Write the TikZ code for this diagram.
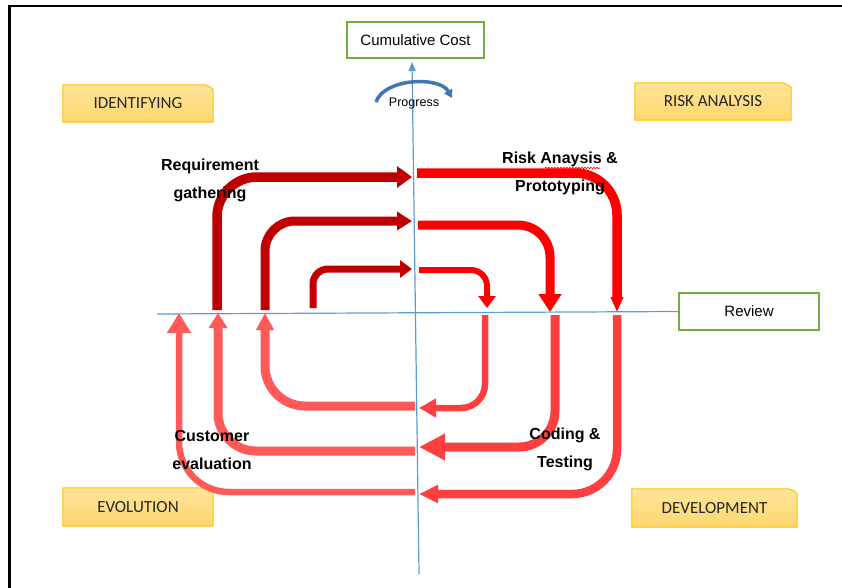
\documentclass[tikz,border=0pt]{standalone}
\usepackage{fontspec}
\setmainfont{Liberation Sans}
\newfontfamily\calib{Carlito}
\usetikzlibrary{arrows.meta,backgrounds,decorations.pathmorphing}
\definecolor{axisblue}{HTML}{5B9BD5}
\definecolor{arcblue}{HTML}{3F78B5}
\definecolor{boxgreen}{HTML}{70AD47}
\definecolor{phaseedge}{HTML}{FFC000}
\definecolor{phasetop}{HTML}{FFE49A}
\definecolor{phasebot}{HTML}{FFD76E}
\definecolor{darkred}{HTML}{C00000}
\definecolor{brightred}{HTML}{FF0000}
\definecolor{midred}{HTML}{FF3F3F}
\definecolor{softred}{HTML}{FF5959}
\tikzset{
  axis/.style={draw=axisblue,line width=1.2pt},
  costbox/.style={rectangle,draw=boxgreen,fill=white,line width=1.2pt,
    font=\fontsize{15}{18}\selectfont,inner sep=0pt},
  phase/.style={rectangle,inner sep=0pt,font=\calib\fontsize{17}{20}\selectfont,
    text=black!85},
  phaseline/.style={draw=phaseedge,line width=1pt,top color=phasetop,bottom color=phasebot},
  loop/.style={line cap=butt},
  stage/.style={font=\bfseries\fontsize{16}{28}\selectfont,align=center},
}

\begin{document}
\begin{tikzpicture}[x=1pt,y=-1pt]
  \useasboundingbox (0,0) rectangle (842,587);
  \draw[line width=2.7pt] (9.5,600) -- (9.5,6) -- (850,6);
  % boxes
  \node[costbox,minimum width=137pt,minimum height=36pt] (cost) at (415.5,40) {Cumulative Cost};
  \node[costbox,minimum width=140pt,minimum height=37pt] (review) at (749,311.5) {Review};
  \node[phase,minimum width=150pt,minimum height=37pt] (ident) at (138,103.5) {IDENTIFYING};
  \node[phase,minimum width=156pt,minimum height=37pt] (risk) at (713,101.5) {RISK ANALYSIS};
  \node[phase,minimum width=150pt,minimum height=38pt] (evol) at (138,507) {EVOLUTION};
  \node[phase,minimum width=165pt,minimum height=38pt] (devel) at (714.5,508) {DEVELOPMENT};
  \begin{scope}[on background layer]
  \foreach \p in {ident,risk,evol,devel}
    \path[phaseline] (\p.south west) -- (\p.north west) [rounded corners=5pt]
      -- ([xshift=-5pt]\p.north east) [sharp corners] -- ([yshift=-5pt]\p.north east)
      -- (\p.south east) -- cycle;
  \end{scope}
  % axes
  \coordinate (vbot) at (419,574);
  \coordinate (vtop) at (412,62);
  \coordinate (hleft) at (157,314);
  \draw[axis,-{Triangle[length=9pt,width=7pt]}] (vbot) -- (vtop);
  \draw[axis] (hleft) -- (review.west);
  \draw[arcblue,line width=3.5pt,-{Triangle[length=8pt,width=9pt]}]
    (376,102) .. controls (384,78) and (440,76) .. (452,98);
  \node[font=\fontsize{12.5}{14}\selectfont] (prog) at (414,103) {Progress};
  % identifying
  \draw[loop,darkred,line width=9.5pt,rounded corners=40pt,-{Triangle[length=15pt,width=21pt]}] (217,310) |- (412,177);
  \draw[loop,darkred,line width=9pt,rounded corners=30pt,-{Triangle[length=15pt,width=18pt]}] (265,310) |- (412,221);
  \draw[loop,darkred,line width=7pt,rounded corners=15pt,-{Triangle[length=12pt,width=17pt]}] (313,308) |- (412,269);
  % risk analysis
  \draw[loop,brightred,line width=9.5pt,rounded corners=42pt,-{Triangle[length=15pt,width=12pt]}] (417,173) -| (617,312);
  \draw[loop,brightred,line width=9pt,rounded corners=32pt,-{Triangle[length=18pt,width=22pt]}] (418,225) -| (550,312);
  \draw[loop,brightred,line width=6pt,rounded corners=16pt,-{Triangle[length=12pt,width=17pt]}] (419,270) -| (487,308);
  % development
  \draw[loop,midred,line width=6.5pt,rounded corners=24pt,-{Triangle[length=17pt,width=18pt]}] (485,315) |- (419,408);
  \draw[loop,midred,line width=9pt,rounded corners=36pt,-{Triangle[length=26pt,width=25pt]}] (555,315) |- (419,447);
  \draw[loop,midred,line width=8.5pt,rounded corners=45pt,-{Triangle[length=19pt,width=17pt]}] (617,315) |- (419,494);
  % evolution
  \draw[loop,softred,line width=9pt,rounded corners=40pt,-{Triangle[length=17pt,width=17pt]}] (415,406) -| (265,313);
  \draw[loop,softred,line width=9pt,rounded corners=38pt,-{Triangle[length=15pt,width=18pt]}] (415,451) -| (218,313);
  \draw[loop,softred,line width=6.5pt,rounded corners=50pt,-{Triangle[length=20pt,width=23pt]}] (415,492) -| (179,313);
  % labels
  \node[stage] (reqlbl) at (210,180) {Requirement\\gathering};
  \node[stage] (risklbl) at (560,173) {Risk Anaysis \&\\Prototyping};
  \node[stage] (custlbl) at (212,450) {Customer\\evaluation};
  \node[stage] (codelbl) at (565,449) {Coding \&\\Testing};
  \draw[brightred,line width=0.6pt,decorate,decoration={snake,amplitude=0.8pt,segment length=3pt}]
    (545,168) -- (600,168);
\end{tikzpicture}
\end{document}
